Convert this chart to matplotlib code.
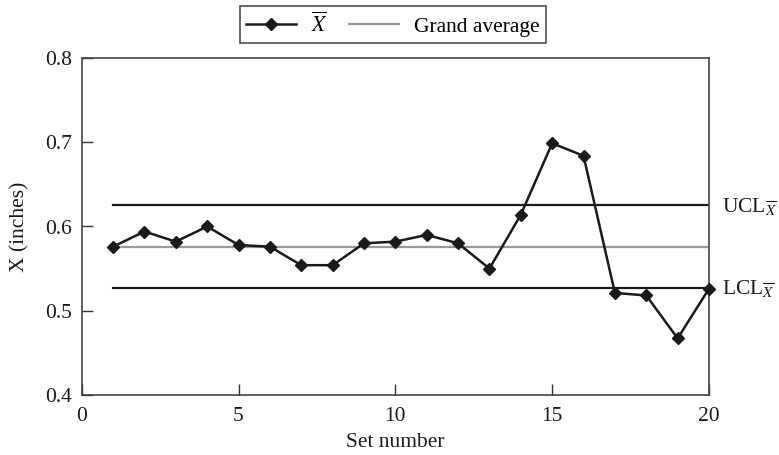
import matplotlib
matplotlib.use("Agg")
import matplotlib.pyplot as plt

set_number = list(range(1, 21))
xbar = [0.576, 0.594, 0.582, 0.600, 0.578, 0.576, 0.554, 0.554, 0.580, 0.582,
        0.590, 0.580, 0.550, 0.614, 0.699, 0.684, 0.521, 0.518, 0.467, 0.526]
grand_average = 0.576
ucl = 0.625
lcl = 0.527
x_ticks = [0, 5, 10, 15, 20]
y_ticks = [0.4, 0.5, 0.6, 0.7, 0.8]

FS = 15.5
plt.rcParams['font.family'] = ['Liberation Serif', 'DejaVu Serif']
plt.rcParams['mathtext.fontset'] = 'stix'
plt.rcParams['font.size'] = FS

fig = plt.figure(figsize=(7.79, 4.55), dpi=100)
ax = fig.add_axes([81.7/779, 1-394.7/455, (709-81.7)/779, (394.7-58.3)/455])

ax.plot([1, 20], [ucl, ucl], color='#1a1a1a', lw=1.6, zorder=2)
ax.plot([1, 20], [lcl, lcl], color='#1a1a1a', lw=1.6, zorder=2)
ga, = ax.plot([1, 20], [grand_average, grand_average], color='#999999', lw=1.6, zorder=2,
              label='Grand average')
xb, = ax.plot(set_number, xbar, color='#1a1a1a', lw=1.8, marker='D', ms=6,
              label=r'$\overline{X}$', zorder=3, clip_on=False)

ax.set_xlim(0, 20)
ax.set_ylim(0.4, 0.8)
ax.set_xticks(x_ticks)
ax.set_yticks(y_ticks)
ax.set_yticklabels([f'{v:.1f}' for v in y_ticks])
ax.tick_params(direction='in', length=8, width=1, colors='#333333', labelcolor='#1a1a1a',
               labelsize=FS)
ax.tick_params(axis='x', pad=9)
ax.tick_params(axis='y', pad=7)
for s in ax.spines.values():
    s.set_color('#444444')
    s.set_linewidth(1.2)

ax.set_xlabel('Set number', fontsize=FS, color='#1a1a1a', labelpad=5)
ax.set_ylabel('X (inches)', fontsize=FS, color='#1a1a1a', labelpad=11)

for val, lab in [(ucl, r'UCL$_{\overline{X}}$'), (lcl, r'LCL$_{\overline{X}}$')]:
    ax.annotate(lab, xy=(20, val), xytext=(9.5, -5), textcoords='offset points',
                va='baseline', ha='left', fontsize=FS, color='#1a1a1a', annotation_clip=False)

leg = fig.legend(handles=[xb, ga], loc='center', bbox_to_anchor=(393/779, 1-24.5/455),
                 ncol=2, frameon=True, fancybox=False, edgecolor='#222222',
                 handlelength=2.3, handletextpad=0.7, columnspacing=1.0,
                 borderpad=0.3, fontsize=FS)
leg.get_frame().set_linewidth(1.2)

fig.savefig('out.png', dpi=100)
